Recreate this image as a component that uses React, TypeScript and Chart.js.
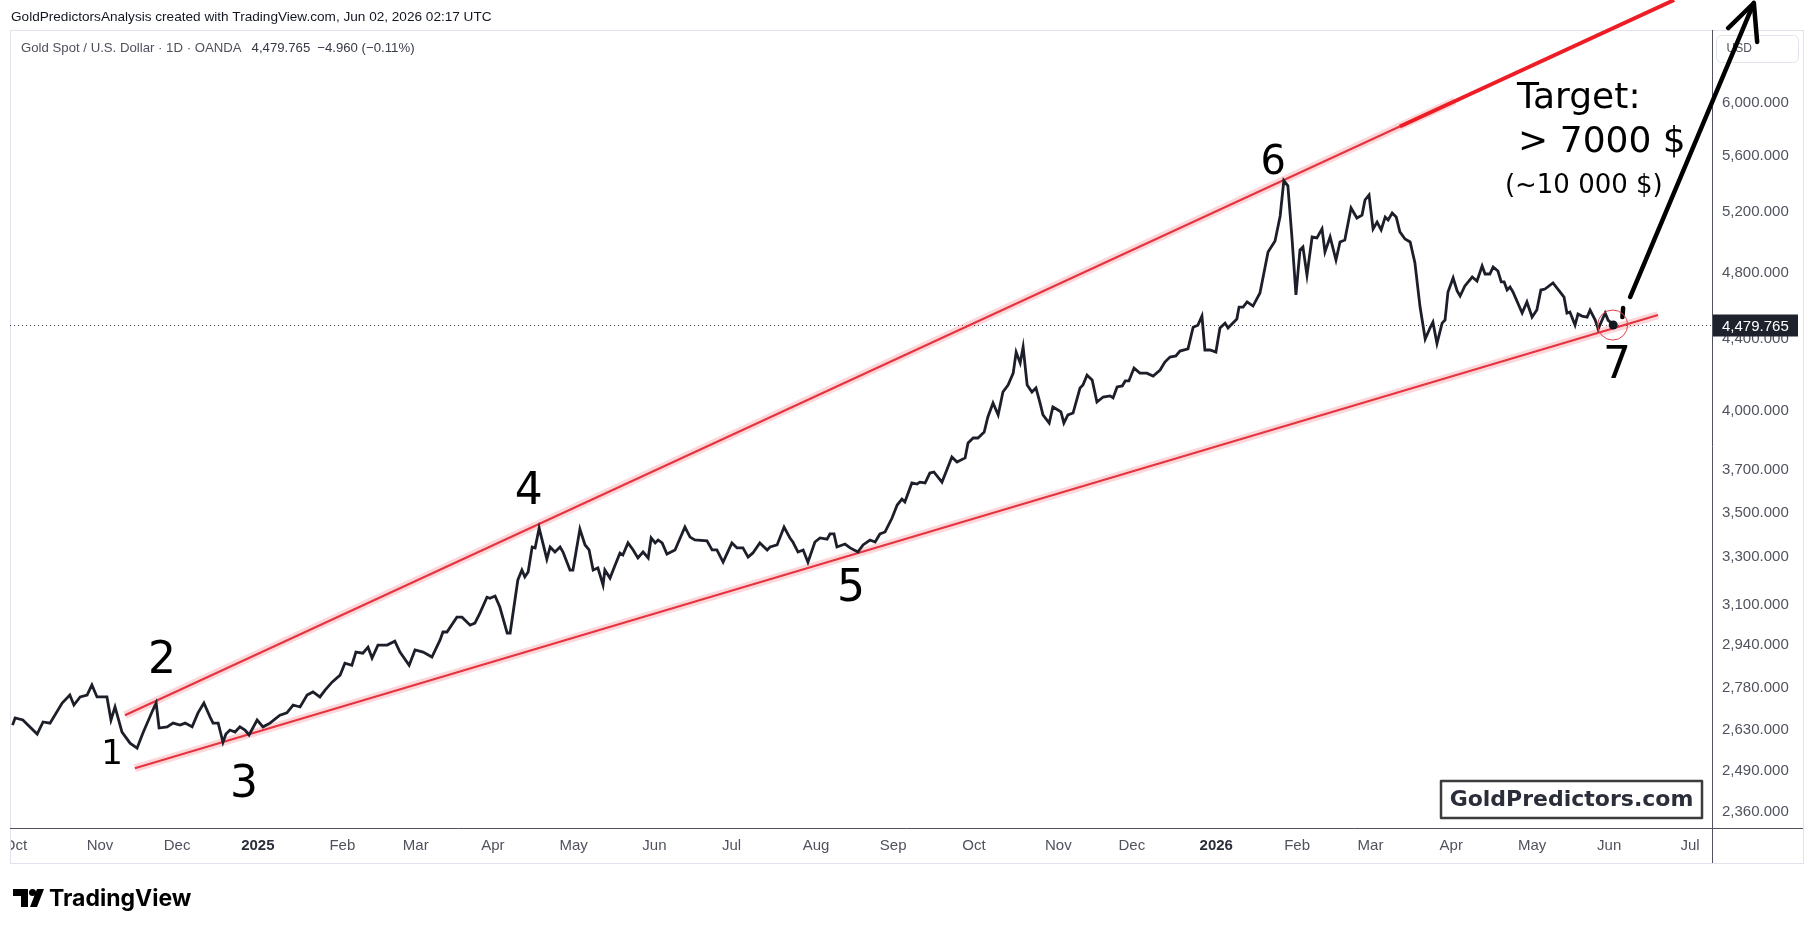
import React, { useEffect, useRef } from 'react';
import { Chart, registerables } from 'chart.js';

Chart.register(...registerables);

// ---------- DATA (trading-day index since 1 Oct 2024, daily close in USD) ----------
const daysA = [-0.8, -0.1, 2.0, 5.9, 7.5, 9.4, 12.7, 14.8, 15.9, 17.6, 19.5, 20.8, 22.2, 24.9, 26.0, 27.1, 29.0, 31.2, 33.1, 34.7, 37.4, 38.3, 39.1, 41.3, 42.9, 44.8, 46.2, 48.1, 49.7, 51.3, 53.0, 53.8, 55.2, 56.5, 57.3, 58.4, 59.8, 61.1, 62.5, 63.6, 65.8, 67.4, 69.3, 72.0, 73.9, 75.6, 77.5, 79.4, 81.0, 82.9, 84.3, 86.2, 88.4, 89.7, 91.6, 92.7, 94.6, 96.0, 97.1, 98.7, 101.2, 103.3, 104.7, 107.2, 108.8, 111.0, 113.4, 115.6];
const closeA = [2646, 2671, 2664, 2615, 2657, 2653, 2724, 2753, 2717, 2746, 2753, 2790, 2746, 2746, 2664, 2710, 2622, 2584, 2567, 2619, 2699, 2724, 2636, 2640, 2653, 2646, 2653, 2640, 2689, 2724, 2674, 2653, 2653, 2587, 2615, 2629, 2622, 2640, 2629, 2612, 2664, 2640, 2653, 2681, 2689, 2717, 2710, 2753, 2764, 2746, 2771, 2800, 2826, 2871, 2863, 2913, 2909, 2932, 2890, 2940, 2940, 2955, 2913, 2863, 2921, 2913, 2894, 2959];

const daysB = [116.4, 117.5, 120.2, 121.6, 123.8, 125.1, 126.5, 128.4, 129.2, 130.6, 131.9, 133.9, 134.7, 136.8, 137.9, 138.7, 139.6, 140.7, 141.5, 142.6, 144.7, 145.6, 146.9, 148.3, 149.1, 151.0, 151.8, 153.7, 155.1, 156.2, 157.3, 158.6, 160.0, 160.5, 161.9, 163.3, 164.6, 165.4, 166.8, 168.2, 169.5, 170.9, 172.3, 173.1, 174.2, 175.0, 176.1, 177.4, 179.6, 182.3, 183.7, 185.0, 188.3, 189.7, 191.0, 192.7, 195.1, 196.5, 198.1, 199.5, 200.8, 202.7, 204.7, 205.5, 207.4, 209.3, 210.9, 211.7, 213.1, 214.5, 215.8, 217.7, 219.1, 221.0, 221.8, 222.9, 223.7, 225.9, 227.3, 229.4, 230.8, 232.7];
const closeB = [2991, 2991, 3050, 3050, 3018, 3026, 3067, 3131, 3127, 3136, 3091, 2987, 2987, 3203, 3245, 3216, 3237, 3345, 3341, 3429, 3292, 3345, 3323, 3345, 3323, 3245, 3245, 3425, 3354, 3332, 3245, 3254, 3182, 3245, 3211, 3267, 3318, 3310, 3363, 3332, 3297, 3323, 3297, 3385, 3363, 3376, 3363, 3314, 3332, 3434, 3389, 3376, 3372, 3332, 3332, 3279, 3363, 3341, 3341, 3301, 3319, 3363, 3332, 3345, 3354, 3434, 3385, 3367, 3323, 3332, 3279, 3367, 3385, 3380, 3403, 3403, 3345, 3358, 3341, 3323, 3354, 3376];

const daysC = [234.1, 235.4, 236.8, 238.7, 240.1, 241.4, 242.2, 244.1, 245.5, 246.3, 247.7, 249.0, 250.1, 252.3, 255.0, 256.4, 258.6, 259.4, 260.8, 262.1, 263.8, 264.8, 266.2, 267.6, 268.9, 270.3, 271.7, 272.5, 273.6, 274.4, 275.5, 276.8, 277.9, 279.0, 279.8, 281.5, 282.5, 283.9, 284.7, 285.5, 286.6, 288.0, 289.9, 290.7, 291.8, 293.2, 294.5, 296.2, 298.1, 298.9, 300.0, 301.4, 302.2, 303.2, 304.6, 306.2, 308.1, 309.8, 311.7, 313.0, 314.4, 316.0, 317.1, 319.3, 320.7, 322.0, 323.1, 323.9, 325.3, 326.9];
const closeC = [3367, 3403, 3412, 3475, 3535, 3563, 3549, 3639, 3634, 3643, 3639, 3687, 3692, 3643, 3766, 3741, 3761, 3836, 3861, 3861, 3891, 3969, 4043, 3980, 4102, 4140, 4205, 4323, 4261, 4352, 4140, 4102, 4124, 4043, 3980, 3938, 4022, 4006, 3996, 3938, 3980, 3990, 4124, 4140, 4194, 4167, 4048, 4075, 4081, 4070, 4129, 4135, 4162, 4162, 4233, 4205, 4205, 4189, 4222, 4267, 4295, 4301, 4329, 4341, 4467, 4479, 4533, 4335, 4335, 4323];

const daysD = [328.0, 329.4, 330.2, 332.6, 333.2, 334.3, 335.4, 337.0, 338.9, 341.1, 343.0, 344.4, 345.4, 346.5, 347.6, 348.7, 349.8, 350.6, 351.7, 353.1, 354.4, 355.8, 356.6, 358.0, 359.6, 360.7, 362.0, 363.7, 365.3, 366.7, 367.5, 368.6, 369.7, 370.8, 371.9, 373.0, 373.8, 374.9, 376.0, 377.0, 378.4, 379.8, 381.1, 382.5, 383.9, 385.2, 386.0, 387.1, 388.5, 389.3, 390.1, 391.5, 392.6, 393.4, 394.7, 396.7, 398.0, 399.4, 400.2, 401.5, 402.4, 403.7, 404.6, 405.4, 406.2, 407.0, 407.8, 410.3, 411.6, 413.0, 414.3, 415.4, 416.5, 418.7, 420.6, 421.7, 422.5, 423.3, 424.7, 425.5, 426.6, 428.0, 428.8, 430.2, 431.0, 432.9, 433.7, 435.1];
const closeD = [4462, 4491, 4462, 4515, 4587, 4587, 4618, 4593, 4673, 4932, 5004, 5171, 5417, 5380, 5030, 4661, 4945, 4964, 4784, 5030, 5024, 5084, 4932, 5030, 4880, 4997, 5010, 5226, 5157, 5177, 5281, 5316, 5084, 5130, 5077, 5164, 5144, 5191, 5164, 5064, 5017, 4997, 4861, 4587, 4398, 4462, 4497, 4372, 4491, 4509, 4679, 4766, 4685, 4654, 4716, 4772, 4747, 4842, 4791, 4791, 4835, 4810, 4741, 4741, 4691, 4710, 4679, 4551, 4618, 4527, 4569, 4691, 4697, 4735, 4679, 4648, 4551, 4557, 4480, 4545, 4533, 4527, 4569, 4509, 4456, 4551, 4509, 4479.765];

// axis ticks
const monthTickDays = [0, 23, 44, 66, 89, 109, 130, 152, 174, 195, 218, 239, 261, 284, 304, 327, 349, 369, 391, 413, 434, 456];
const monthTickLabels = ['Oct', 'Nov', 'Dec', '2025', 'Feb', 'Mar', 'Apr', 'May', 'Jun', 'Jul', 'Aug', 'Sep', 'Oct', 'Nov', 'Dec', '2026', 'Feb', 'Mar', 'Apr', 'May', 'Jun', 'Jul'];
const priceTicks = [2360, 2490, 2630, 2780, 2940, 3100, 3300, 3500, 3700, 4000, 4400, 4800, 5200, 5600, 6000];
const axisRange = { dayMin: -1.5, dayMax: 462, priceMin: 2311, priceMax: 6605 };

// trend lines (day, price)
const upperTrendDays = [29.8, 392.0];
const upperTrendPrices = [2681, 6016];
const lowerTrendDays = [32.5, 447.3];
const lowerTrendPrices = [2500, 4539];
const upperExtDays = [377.0, 451.7];
const upperExtPrices = [5817, 6871];

// target arrow (day, price)
const arrowDashDays = [437.6, 437.8];
const arrowDashPrices = [4527, 4581];
const arrowShaftDays = [439.7, 473.4];
const arrowShaftPrices = [4648, 6844];
const arrowHeadDays = [466.4, 473.4, 474.3];
const arrowHeadPrices = [6622, 6844, 6502];

// wave labels (day, price at glyph centre)
const waveLabels = ['1', '2', '3', '4', '5', '6', '7'];
const waveDays = [26.3, 39.9, 62.2, 139.8, 227.5, 342.5, 436.1];
const wavePrices = [2554, 2894, 2458, 3615, 3182, 5574, 4267];

// target text (day, price at baseline)
const targetTexts = ['Target:', '> 7000 $', '(~10 000 $)'];
const targetDays = [408.9, 409.2, 405.6];
const targetPrices = [5961, 5625, 5330];

const lastPrice = 4479.765;
const headerText = 'GoldPredictorsAnalysis created with TradingView.com, Jun 02, 2026 02:17 UTC';
const legendTitle = 'Gold Spot / U.S. Dollar \u00b7 1D \u00b7 OANDA';
const legendValues = ['4,479.765', '\u22124.960 (\u22120.11%)'];
const watermark = 'GoldPredictors.com';

// ---------- STYLE ----------
const W = 1814;
const H = 932;
const FONT_UI = "'Liberation Sans', Arial, sans-serif";
const FONT_ANN = "'DejaVu Sans', 'Liberation Sans', sans-serif";
const waveFontPx = [34, 44, 44, 44, 44, 40, 44];
const targetFontPx = [36, 36, 26];

function fmt3(v: number) {
  return v.toLocaleString('en-US', { minimumFractionDigits: 3, maximumFractionDigits: 3 });
}

export default function App() {
  const ref = useRef<HTMLCanvasElement>(null);

  useEffect(() => {
    const canvas = ref.current;
    if (!canvas) return;
    const days = [...daysA, ...daysB, ...daysC, ...daysD];
    const closes = [...closeA, ...closeB, ...closeC, ...closeD];
    const series = days.map((d, i) => ({ x: d, y: closes[i] }));
    const toPts = (ds: number[], ps: number[]) => ds.map((d, i) => ({ x: d, y: ps[i] }));
    const lastIdx = series.length - 1;

    const decor = {
      id: 'decor',
      beforeDraw(chart: any) {
        const { ctx } = chart;
        ctx.save();
        ctx.fillStyle = '#ffffff';
        ctx.fillRect(0, 0, W, H);
        ctx.textAlign = 'left';
        ctx.textBaseline = 'alphabetic';
        ctx.fillStyle = '#131722';
        ctx.font = `13.6px ${FONT_UI}`;
        ctx.fillText(headerText, 11, 21);

        // TradingView logo
        const lx = 13;
        const ly = 889;
        ctx.fillStyle = '#000000';
        ctx.beginPath();
        ctx.moveTo(lx, ly);
        ctx.lineTo(lx + 15, ly);
        ctx.lineTo(lx + 15, ly + 18);
        ctx.lineTo(lx + 8, ly + 18);
        ctx.lineTo(lx + 8, ly + 7);
        ctx.lineTo(lx, ly + 7);
        ctx.closePath();
        ctx.fill();
        ctx.beginPath();
        ctx.arc(lx + 19.5, ly + 3.5, 3.5, 0, Math.PI * 2);
        ctx.fill();
        ctx.beginPath();
        ctx.moveTo(lx + 24, ly);
        ctx.lineTo(lx + 31, ly);
        ctx.lineTo(lx + 24, ly + 18);
        ctx.lineTo(lx + 17, ly + 18);
        ctx.closePath();
        ctx.fill();
        ctx.font = `bold 23px Inter, 'Liberation Sans', sans-serif`;
        ctx.fillText('TradingView', 49, 906);
        ctx.restore();
      },
      beforeDatasetsDraw(chart: any) {
        const { ctx, chartArea } = chart;
        const xs = chart.scales.x;
        const ys = chart.scales.y;
        const panelRight = ys.right;
        const panelBottom = xs.bottom;
        ctx.save();
        // clip labels outside the panel
        ctx.fillStyle = '#ffffff';
        ctx.fillRect(0, chartArea.top, chartArea.left, panelBottom - chartArea.top + 2);
        // panel border
        ctx.strokeStyle = '#e0e3eb';
        ctx.lineWidth = 1;
        ctx.strokeRect(chartArea.left + 0.5, chartArea.top + 0.5, panelRight - chartArea.left, panelBottom - chartArea.top);
        // axis lines
        ctx.strokeStyle = '#50535e';
        ctx.beginPath();
        ctx.moveTo(chartArea.left, chartArea.bottom + 0.5);
        ctx.lineTo(panelRight, chartArea.bottom + 0.5);
        ctx.moveTo(chartArea.right + 0.5, chartArea.top);
        ctx.lineTo(chartArea.right + 0.5, panelBottom);
        ctx.stroke();

        // dotted last-price line
        const py = Math.round(ys.getPixelForValue(lastPrice)) + 0.5;
        ctx.strokeStyle = '#3a3d46';
        ctx.setLineDash([1, 3]);
        ctx.beginPath();
        ctx.moveTo(chartArea.left, py);
        ctx.lineTo(chartArea.right, py);
        ctx.stroke();
        ctx.setLineDash([]);

        // last price label
        ctx.fillStyle = '#1e222d';
        ctx.fillRect(chartArea.right + 1, py - 11, panelRight - chartArea.right - 6, 22);
        ctx.fillStyle = '#ffffff';
        ctx.font = `15px ${FONT_UI}`;
        ctx.textAlign = 'left';
        ctx.textBaseline = 'middle';
        ctx.fillText(fmt3(lastPrice), chartArea.right + 10, py + 1);

        // legend line
        ctx.textBaseline = 'alphabetic';
        ctx.font = `13.2px ${FONT_UI}`;
        ctx.fillStyle = '#4f525c';
        let tx = chartArea.left + 11;
        const ty = chartArea.top + 22;
        ctx.fillText(legendTitle, tx, ty);
        tx += ctx.measureText(legendTitle).width + 10;
        ctx.fillStyle = '#363a45';
        ctx.fillText(legendValues[0], tx, ty);
        tx += ctx.measureText(legendValues[0]).width + 7;
        ctx.fillText(legendValues[1], tx, ty);

        // USD box
        const bx = chartArea.right + 4.5;
        const by = chartArea.top + 5.5;
        ctx.strokeStyle = '#e0e3eb';
        ctx.beginPath();
        ctx.roundRect(bx, by, 82, 27, 5);
        ctx.stroke();
        ctx.fillStyle = '#4f525c';
        ctx.font = `12px ${FONT_UI}`;
        ctx.textBaseline = 'middle';
        ctx.fillText('USD', bx + 10, by + 13.5);
        ctx.restore();
      },
      afterDatasetsDraw(chart: any) {
        const { ctx, chartArea } = chart;
        const xs = chart.scales.x;
        const ys = chart.scales.y;
        const px = (d: number) => xs.getPixelForValue(d);
        const pyv = (p: number) => ys.getPixelForValue(p);
        const poly = (ds: number[], ps: number[]) => {
          ctx.beginPath();
          ds.forEach((d, i) => {
            if (i === 0) ctx.moveTo(px(d), pyv(ps[i]));
            else ctx.lineTo(px(d), pyv(ps[i]));
          });
          ctx.stroke();
        };
        ctx.save();
        // red extension of the upper channel line
        ctx.strokeStyle = '#ee1d25';
        ctx.lineWidth = 4;
        ctx.lineCap = 'butt';
        poly(upperExtDays, upperExtPrices);

        // black target arrow
        ctx.strokeStyle = '#000000';
        ctx.lineWidth = 4.5;
        ctx.lineCap = 'round';
        ctx.lineJoin = 'round';
        poly(arrowDashDays, arrowDashPrices);
        poly(arrowShaftDays, arrowShaftPrices);
        poly(arrowHeadDays, arrowHeadPrices);

        // red circle at point 7
        const lp = series[lastIdx];
        ctx.strokeStyle = '#e0404c';
        ctx.lineWidth = 1;
        ctx.beginPath();
        ctx.arc(px(lp.x) - 0.5, pyv(lp.y), 15, 0, Math.PI * 2);
        ctx.stroke();

        // wave numbers
        ctx.fillStyle = '#000000';
        ctx.textAlign = 'center';
        ctx.textBaseline = 'alphabetic';
        waveLabels.forEach((t, i) => {
          const fs = waveFontPx[i];
          ctx.font = `${fs}px ${FONT_ANN}`;
          ctx.fillText(t, px(waveDays[i]), pyv(wavePrices[i]) + fs * 0.3645);
        });

        // target text
        ctx.textAlign = 'left';
        targetTexts.forEach((t, i) => {
          ctx.font = `${targetFontPx[i]}px ${FONT_ANN}`;
          ctx.fillText(t, px(targetDays[i]), pyv(targetPrices[i]));
        });

        // watermark box
        const bw = 261;
        const bh = 37;
        const bx = chartArea.right - 10 - bw;
        const by = chartArea.bottom - 10 - bh;
        ctx.fillStyle = '#ffffff';
        ctx.fillRect(bx, by, bw, bh);
        ctx.strokeStyle = '#3b3b3b';
        ctx.lineWidth = 2.5;
        ctx.strokeRect(bx, by, bw, bh);
        ctx.fillStyle = '#2a2e39';
        ctx.font = `bold 22px ${FONT_ANN}`;
        ctx.textAlign = 'center';
        ctx.textBaseline = 'middle';
        ctx.fillText(watermark, bx + bw / 2, by + bh / 2 + 1);
        ctx.restore();
      },
    };

    const chart = new Chart(canvas, {
      type: 'line',
      data: {
        datasets: [
          {
            data: series,
            borderColor: '#1c1f29',
            borderWidth: 2.8,
            pointRadius: (c: any) => (c.dataIndex === lastIdx ? 4.5 : 0),
            pointBackgroundColor: '#131722',
            pointBorderWidth: 0,
            tension: 0,
            order: 0,
          },
          { data: toPts(upperTrendDays, upperTrendPrices), borderColor: '#e5333f', borderWidth: 2.2, pointRadius: 0, order: 1 },
          { data: toPts(lowerTrendDays, lowerTrendPrices), borderColor: '#e5333f', borderWidth: 2.2, pointRadius: 0, order: 1 },
          { data: toPts(upperTrendDays, upperTrendPrices), borderColor: 'rgba(242,54,69,0.2)', borderWidth: 8, pointRadius: 0, order: 2 },
          { data: toPts(lowerTrendDays, lowerTrendPrices), borderColor: 'rgba(242,54,69,0.2)', borderWidth: 8, pointRadius: 0, order: 2 },
        ],
      } as any,
      options: {
        responsive: false,
        animation: false,
        events: [],
        layout: { padding: { left: 10, top: 30, right: 11, bottom: 69 } },
        plugins: { legend: { display: false }, tooltip: { enabled: false } },
        scales: {
          x: {
            type: 'linear',
            min: axisRange.dayMin,
            max: axisRange.dayMax,
            bounds: 'data',
            grid: { display: false, drawTicks: false },
            border: { display: false },
            afterFit: (s: any) => {
              s.height = 35;
              s.paddingLeft = 0;
              s.paddingRight = 0;
            },
            afterBuildTicks: (s: any) => {
              s.ticks = monthTickDays.map((v) => ({ value: v }));
            },
            ticks: {
              autoSkip: false,
              maxRotation: 0,
              padding: 9,
              callback: (_v: any, i: number) => monthTickLabels[i],
              font: (c: any) => ({ family: FONT_UI, size: 15, weight: /^\d{4}$/.test(monthTickLabels[c.index] || '') ? 'bold' : 'normal' }),
              color: (c: any) => (/^\d{4}$/.test(monthTickLabels[c.index] || '') ? '#2a2e39' : '#50535e'),
            },
          },
          y: {
            type: 'logarithmic',
            position: 'right',
            min: axisRange.priceMin,
            max: axisRange.priceMax,
            bounds: 'data',
            grid: { display: false, drawTicks: false },
            border: { display: false },
            afterFit: (s: any) => {
              s.width = 91;
              s.paddingTop = 0;
              s.paddingBottom = 0;
            },
            afterBuildTicks: (s: any) => {
              s.ticks = priceTicks.map((v) => ({ value: v }));
            },
            ticks: {
              autoSkip: false,
              padding: 10,
              callback: (v: any) => fmt3(Number(v)),
              font: { family: FONT_UI, size: 15 },
              color: '#50535e',
            },
          },
        },
      } as any,
      plugins: [decor],
    });

    return () => chart.destroy();
  }, []);

  return (
    <div style={{ position: 'fixed', left: 0, top: 0, width: W, height: H, background: '#ffffff' }}>
      <canvas ref={ref} width={W} height={H} style={{ display: 'block', width: W, height: H }} />
    </div>
  );
}
